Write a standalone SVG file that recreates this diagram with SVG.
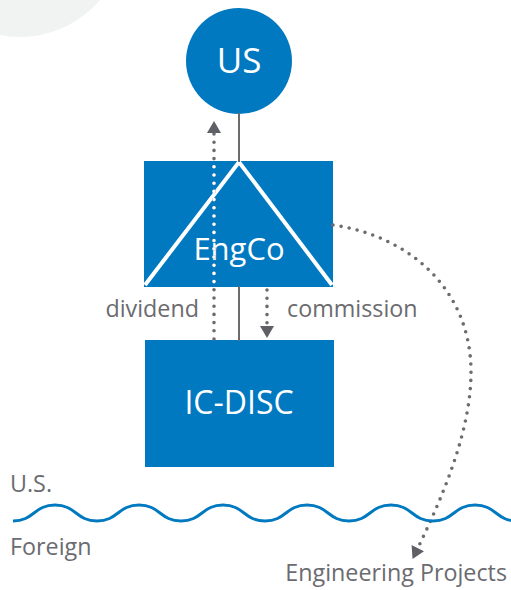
<svg xmlns="http://www.w3.org/2000/svg" width="511" height="590" viewBox="0 0 511 590">
<style>
.box{fill:#0079c1}
.wt{fill:#fff;font-family:"Open Sans","Liberation Sans",sans-serif;text-anchor:middle}
.lbl{fill:#6b6b70;font-family:"Open Sans","Liberation Sans",sans-serif;font-size:23.3px}
.solid{stroke:#6b6b70;stroke-width:2;fill:none}
.dot{stroke:#6b6b70;stroke-width:3.6;stroke-linecap:round;stroke-dasharray:0 8.2;fill:none}
</style>
<defs>
<marker id="ah" viewBox="0 0 12 14" refX="11" refY="7" markerWidth="12" markerHeight="14" markerUnits="userSpaceOnUse" orient="auto">
<path d="M0,0 L12,7 L0,14 Z" fill="#5f5f66"/>
</marker>
<clipPath id="engclip"><rect x="144" y="161" width="189" height="126"/></clipPath>
</defs>
<rect width="511" height="590" fill="#fff"/>
<g id="watermark">
<circle cx="20" cy="-68" r="105" fill="#f1f2f2"/>
</g>
<g id="US">
<circle class="box" cx="239" cy="61" r="53"/>
<text class="wt" x="239" y="73" font-size="35">US</text>
</g>
<g id="EngCo">
<rect class="box" x="144" y="161" width="189" height="126"/>
<path d="M145,285 L239,162 L332,285" fill="none" stroke="#fff" stroke-width="4"/>
<text class="wt" x="239" y="260" font-size="31">EngCo</text>
</g>
<g id="ICDISC">
<rect class="box" x="145" y="340" width="189" height="127"/>
<text class="wt" x="239" y="414" font-size="32">IC-DISC</text>
</g>
<g id="connectors">
<line class="solid" x1="239" y1="113" x2="239" y2="162"/>
<line class="solid" x1="239" y1="286" x2="239" y2="341"/>
<path class="dot" d="M214,339 L214,122" marker-end="url(#ah)"/>
<path class="dot" d="M214,339 L214,122" clip-path="url(#engclip)" style="stroke:#fff"/>
<path class="dot" d="M267,290 L267,337" marker-end="url(#ah)"/>
<path class="dot" d="M333,225 C410,236 471,290 471,372 C471,430 444,495 413,558" marker-end="url(#ah)"/>
</g>
<g id="labels">
<text class="lbl" x="199" y="317" text-anchor="end">dividend</text>
<text class="lbl" x="287" y="317">commission</text>
<text class="lbl" x="10" y="492">U.S.</text>
<text class="lbl" x="10" y="555">Foreign</text>
<text class="lbl" x="507" y="581" text-anchor="end">Engineering Projects</text>
</g>
<g id="border">
<path d="M13,521 C34,521 34,505 55,505 C76,505 76,521 97,521 C118,521 118,505 139,505 C160,505 160,521 181,521 C202,521 202,505 223,505 C244,505 244,521 265,521 C286,521 286,505 307,505 C328,505 328,521 349,521 C370,521 370,505 391,505 C412,505 412,521 433,521 C454,521 454,505 475,505 C496,505 496,521 517,521" fill="none" stroke="#0079c1" stroke-width="3"/>
</g>
</svg>
